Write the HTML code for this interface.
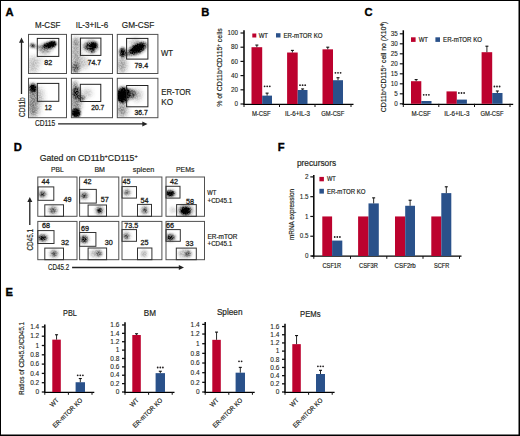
<!DOCTYPE html>
<html><head><meta charset="utf-8"><style>
html,body{margin:0;padding:0;background:#fff;width:520px;height:436px;overflow:hidden;position:relative;font-family:"Liberation Sans",sans-serif;}
</style></head><body>
<svg width="520" height="436" viewBox="0 0 520 436" style="position:absolute;left:0;top:0" font-family="Liberation Sans">
<defs>
<filter id="b1" x="-50%" y="-50%" width="200%" height="200%"><feGaussianBlur stdDeviation="1"/></filter>
<filter id="b2" x="-50%" y="-50%" width="200%" height="200%"><feGaussianBlur stdDeviation="1.8"/></filter>
<filter id="b3" x="-50%" y="-50%" width="200%" height="200%"><feGaussianBlur stdDeviation="2.8"/></filter>
<filter id="b4" x="-50%" y="-50%" width="200%" height="200%"><feGaussianBlur stdDeviation="4"/></filter>
<filter id="grain" x="-20%" y="-20%" width="140%" height="140%" color-interpolation-filters="sRGB">
<feTurbulence type="fractalNoise" baseFrequency="0.7" numOctaves="2" seed="7" result="nz"/>
<feColorMatrix in="nz" type="matrix" values="0 0 0 0 0  0 0 0 0 0  0 0 0 0 0  3 0 0 0 -1" result="na"/>
<feComposite in="SourceGraphic" in2="na" operator="arithmetic" k1="0.55" k2="0.85" k3="0" k4="0"/>
<feGaussianBlur stdDeviation="0.35"/>
</filter>
</defs>
<rect x="0" y="0" width="520" height="436" fill="#fff"/>
<text x="5.6" y="16.3" font-size="11.2" text-anchor="start" font-weight="bold" fill="#000" stroke="#000" stroke-width="0.35" >A</text>
<text x="47.7" y="27.9" font-size="8.5" text-anchor="middle" font-weight="normal" fill="#231f20" textLength="25.3" lengthAdjust="spacingAndGlyphs" stroke="#231f20" stroke-width="0.18" >M-CSF</text>
<text x="91.9" y="27.9" font-size="8.5" text-anchor="middle" font-weight="normal" fill="#231f20" textLength="32.5" lengthAdjust="spacingAndGlyphs" stroke="#231f20" stroke-width="0.18" >IL-3+IL-6</text>
<text x="138.1" y="27.9" font-size="8.5" text-anchor="middle" font-weight="normal" fill="#231f20" textLength="32.5" lengthAdjust="spacingAndGlyphs" stroke="#231f20" stroke-width="0.18" >GM-CSF</text>
<clipPath id="ca00"><rect x="28.5" y="34.4" width="38.0" height="39.1"/></clipPath>
<clipPath id="ca01"><rect x="71.4" y="34.4" width="41.099999999999994" height="39.1"/></clipPath>
<clipPath id="ca02"><rect x="117.3" y="34.4" width="40.60000000000001" height="39.1"/></clipPath>
<clipPath id="ca10"><rect x="28.5" y="78.3" width="38.0" height="39.400000000000006"/></clipPath>
<clipPath id="ca11"><rect x="71.4" y="78.3" width="41.099999999999994" height="39.400000000000006"/></clipPath>
<clipPath id="ca12"><rect x="117.3" y="78.3" width="40.60000000000001" height="39.400000000000006"/></clipPath>
<g clip-path="url(#ca00)">
<g filter="url(#grain)">
<ellipse cx="47" cy="47" rx="9" ry="4.5" transform="rotate(-15 47 47)" fill="#000" fill-opacity="0.3" filter="url(#b2)"/>
<ellipse cx="49.5" cy="45" rx="6.8" ry="2.6" transform="rotate(-17 49.5 45)" fill="#000" fill-opacity="1" filter="url(#b1)"/>
<ellipse cx="52.5" cy="44" rx="3.4" ry="2.3" transform="rotate(-17 52.5 44)" fill="#000" fill-opacity="1" filter="url(#b1)"/>
<ellipse cx="32.5" cy="45.5" rx="2.6" ry="2" transform="rotate(0 32.5 45.5)" fill="#000" fill-opacity="0.75" filter="url(#b1)"/>
<ellipse cx="38" cy="47" rx="5" ry="1.6" transform="rotate(0 38 47)" fill="#000" fill-opacity="0.25" filter="url(#b1)"/>
<ellipse cx="33" cy="65" rx="5.5" ry="9" transform="rotate(0 33 65)" fill="#000" fill-opacity="0.2" filter="url(#b3)"/>
<ellipse cx="45" cy="52" rx="6" ry="3" transform="rotate(0 45 52)" fill="#000" fill-opacity="0.14" filter="url(#b2)"/>
<ellipse cx="40" cy="60" rx="4" ry="4" transform="rotate(0 40 60)" fill="#000" fill-opacity="0.08" filter="url(#b3)"/>
</g>
<ellipse cx="49.5" cy="45" rx="4.76" ry="1.8199999999999998" transform="rotate(-17 49.5 45)" fill="#000" fill-opacity="0.85" filter="url(#b1)"/>
<ellipse cx="52.5" cy="44" rx="2.38" ry="1.6099999999999999" transform="rotate(-17 52.5 44)" fill="#000" fill-opacity="0.85" filter="url(#b1)"/>
</g>
<g clip-path="url(#ca01)">
<g filter="url(#grain)">
<ellipse cx="91" cy="46.5" rx="8" ry="6.5" transform="rotate(0 91 46.5)" fill="#000" fill-opacity="0.3" filter="url(#b2)"/>
<ellipse cx="93.5" cy="45.5" rx="3.6" ry="3.3" transform="rotate(0 93.5 45.5)" fill="#000" fill-opacity="1" filter="url(#b1)"/>
<ellipse cx="89" cy="46.5" rx="4.5" ry="3.5" transform="rotate(0 89 46.5)" fill="#000" fill-opacity="0.55" filter="url(#b1)"/>
<ellipse cx="92.5" cy="50.5" rx="2" ry="2.3" transform="rotate(0 92.5 50.5)" fill="#000" fill-opacity="0.75" filter="url(#b1)"/>
<ellipse cx="76" cy="55" rx="4.5" ry="18" transform="rotate(0 76 55)" fill="#000" fill-opacity="0.3" filter="url(#b3)"/>
<ellipse cx="75.5" cy="68" rx="4" ry="5" transform="rotate(0 75.5 68)" fill="#000" fill-opacity="0.4" filter="url(#b2)"/>
<ellipse cx="84" cy="63" rx="5" ry="6" transform="rotate(0 84 63)" fill="#000" fill-opacity="0.18" filter="url(#b3)"/>
<ellipse cx="76" cy="42" rx="3" ry="4" transform="rotate(0 76 42)" fill="#000" fill-opacity="0.15" filter="url(#b2)"/>
</g>
<ellipse cx="93.5" cy="45.5" rx="2.52" ry="2.3099999999999996" transform="rotate(0 93.5 45.5)" fill="#000" fill-opacity="0.85" filter="url(#b1)"/>
</g>
<g clip-path="url(#ca02)">
<g filter="url(#grain)">
<ellipse cx="137.5" cy="48.5" rx="10.5" ry="5.5" transform="rotate(-28 137.5 48.5)" fill="#000" fill-opacity="0.5" filter="url(#b2)"/>
<ellipse cx="137.5" cy="48.5" rx="8.5" ry="3.8" transform="rotate(-28 137.5 48.5)" fill="#000" fill-opacity="1" filter="url(#b1)"/>
<ellipse cx="122.5" cy="52.5" rx="3.2" ry="5" transform="rotate(0 122.5 52.5)" fill="#000" fill-opacity="0.85" filter="url(#b1)"/>
<ellipse cx="127" cy="54" rx="4" ry="2.5" transform="rotate(0 127 54)" fill="#000" fill-opacity="0.4" filter="url(#b2)"/>
<ellipse cx="122" cy="65" rx="4.5" ry="8" transform="rotate(0 122 65)" fill="#000" fill-opacity="0.32" filter="url(#b3)"/>
<ellipse cx="134" cy="41" rx="6" ry="3" transform="rotate(-20 134 41)" fill="#000" fill-opacity="0.15" filter="url(#b2)"/>
</g>
<ellipse cx="137.5" cy="48.5" rx="5.949999999999999" ry="2.6599999999999997" transform="rotate(-28 137.5 48.5)" fill="#000" fill-opacity="0.85" filter="url(#b1)"/>
</g>
<g clip-path="url(#ca10)">
<g filter="url(#grain)">
<ellipse cx="33" cy="88" rx="2.8" ry="3.6" transform="rotate(0 33 88)" fill="#000" fill-opacity="1" filter="url(#b1)"/>
<ellipse cx="32.5" cy="88" rx="4.5" ry="5" transform="rotate(0 32.5 88)" fill="#000" fill-opacity="0.35" filter="url(#b2)"/>
<ellipse cx="32.5" cy="102" rx="4.5" ry="16" transform="rotate(0 32.5 102)" fill="#000" fill-opacity="0.4" filter="url(#b3)"/>
<ellipse cx="39" cy="96" rx="5" ry="9" transform="rotate(0 39 96)" fill="#000" fill-opacity="0.18" filter="url(#b3)"/>
<ellipse cx="36" cy="110" rx="5" ry="6" transform="rotate(0 36 110)" fill="#000" fill-opacity="0.15" filter="url(#b3)"/>
</g>
<ellipse cx="33" cy="88" rx="1.9599999999999997" ry="2.52" transform="rotate(0 33 88)" fill="#000" fill-opacity="0.85" filter="url(#b1)"/>
</g>
<g clip-path="url(#ca11)">
<g filter="url(#grain)">
<ellipse cx="76" cy="92" rx="4" ry="6" transform="rotate(0 76 92)" fill="#000" fill-opacity="0.7" filter="url(#b2)"/>
<ellipse cx="76" cy="113" rx="4.5" ry="4.5" transform="rotate(0 76 113)" fill="#000" fill-opacity="0.95" filter="url(#b1)"/>
<ellipse cx="76" cy="103" rx="5" ry="10" transform="rotate(0 76 103)" fill="#000" fill-opacity="0.4" filter="url(#b3)"/>
<ellipse cx="81" cy="98" rx="4" ry="2.5" transform="rotate(0 81 98)" fill="#000" fill-opacity="0.55" filter="url(#b2)"/>
<ellipse cx="87" cy="93" rx="5" ry="4" transform="rotate(0 87 93)" fill="#000" fill-opacity="0.2" filter="url(#b3)"/>
<ellipse cx="75" cy="84" rx="3" ry="3" transform="rotate(0 75 84)" fill="#000" fill-opacity="0.3" filter="url(#b2)"/>
</g>
<ellipse cx="76" cy="113" rx="3.15" ry="3.15" transform="rotate(0 76 113)" fill="#000" fill-opacity="0.85" filter="url(#b1)"/>
</g>
<g clip-path="url(#ca12)">
<g filter="url(#grain)">
<ellipse cx="123" cy="95" rx="6" ry="8" transform="rotate(0 123 95)" fill="#000" fill-opacity="0.9" filter="url(#b2)"/>
<ellipse cx="130" cy="94" rx="6" ry="5" transform="rotate(0 130 94)" fill="#000" fill-opacity="0.55" filter="url(#b2)"/>
<ellipse cx="121" cy="96" rx="3.2" ry="6" transform="rotate(0 121 96)" fill="#000" fill-opacity="1" filter="url(#b1)"/>
<ellipse cx="126" cy="92" rx="3" ry="3" transform="rotate(0 126 92)" fill="#000" fill-opacity="0.8" filter="url(#b1)"/>
<ellipse cx="122" cy="110" rx="5" ry="7" transform="rotate(0 122 110)" fill="#000" fill-opacity="0.38" filter="url(#b3)"/>
<ellipse cx="137" cy="95" rx="5" ry="6" transform="rotate(0 137 95)" fill="#000" fill-opacity="0.22" filter="url(#b3)"/>
</g>
<ellipse cx="123" cy="95" rx="4.199999999999999" ry="5.6" transform="rotate(0 123 95)" fill="#000" fill-opacity="0.85" filter="url(#b1)"/>
<ellipse cx="121" cy="96" rx="2.2399999999999998" ry="4.199999999999999" transform="rotate(0 121 96)" fill="#000" fill-opacity="0.85" filter="url(#b1)"/>
</g>
<rect x="28.5" y="34.4" width="38.0" height="39.1" fill="none" stroke="#505050" stroke-width="1"/>
<rect x="71.4" y="34.4" width="41.099999999999994" height="39.1" fill="none" stroke="#505050" stroke-width="1"/>
<rect x="117.3" y="34.4" width="40.60000000000001" height="39.1" fill="none" stroke="#505050" stroke-width="1"/>
<rect x="28.5" y="78.3" width="38.0" height="39.400000000000006" fill="none" stroke="#505050" stroke-width="1"/>
<rect x="71.4" y="78.3" width="41.099999999999994" height="39.400000000000006" fill="none" stroke="#505050" stroke-width="1"/>
<rect x="117.3" y="78.3" width="40.60000000000001" height="39.400000000000006" fill="none" stroke="#505050" stroke-width="1"/>
<rect x="37.3" y="38.4" width="21.5" height="18.0" fill="none" stroke="#222" stroke-width="1"/>
<rect x="80.4" y="38.1" width="20.5" height="17.299999999999997" fill="none" stroke="#222" stroke-width="1"/>
<rect x="126.6" y="38.4" width="21.30000000000001" height="20.700000000000003" fill="none" stroke="#222" stroke-width="1"/>
<rect x="37.3" y="83.4" width="21.5" height="17.89999999999999" fill="none" stroke="#222" stroke-width="1"/>
<rect x="80.3" y="84.3" width="20.5" height="17.200000000000003" fill="none" stroke="#222" stroke-width="1"/>
<rect x="126.6" y="85.5" width="21.30000000000001" height="21.299999999999997" fill="none" stroke="#222" stroke-width="1"/>
<text x="48.2" y="64.7" font-size="7.5" text-anchor="middle" font-weight="normal" fill="#231f20" textLength="7.9" lengthAdjust="spacingAndGlyphs" stroke="#231f20" stroke-width="0.32" >82</text>
<text x="94.3" y="64.9" font-size="7.5" text-anchor="middle" font-weight="normal" fill="#231f20" textLength="13.5" lengthAdjust="spacingAndGlyphs" stroke="#231f20" stroke-width="0.32" >74.7</text>
<text x="141.3" y="68.2" font-size="7.5" text-anchor="middle" font-weight="normal" fill="#231f20" textLength="13.7" lengthAdjust="spacingAndGlyphs" stroke="#231f20" stroke-width="0.32" >79.4</text>
<text x="48.3" y="110.3" font-size="7.5" text-anchor="middle" font-weight="normal" fill="#231f20" textLength="6.9" lengthAdjust="spacingAndGlyphs" stroke="#231f20" stroke-width="0.32" >12</text>
<text x="97.8" y="110.3" font-size="7.5" text-anchor="middle" font-weight="normal" fill="#231f20" textLength="13.1" lengthAdjust="spacingAndGlyphs" stroke="#231f20" stroke-width="0.32" >20.7</text>
<text x="141.1" y="115.2" font-size="7.5" text-anchor="middle" font-weight="normal" fill="#231f20" textLength="13.4" lengthAdjust="spacingAndGlyphs" stroke="#231f20" stroke-width="0.32" >36.7</text>
<text x="161" y="55.6" font-size="8.7" text-anchor="start" font-weight="normal" fill="#231f20" textLength="12.1" lengthAdjust="spacingAndGlyphs" stroke="#231f20" stroke-width="0.18" >WT</text>
<text x="161.3" y="94.8" font-size="8.5" text-anchor="start" font-weight="normal" fill="#231f20" textLength="29.7" lengthAdjust="spacingAndGlyphs" stroke="#231f20" stroke-width="0.18" >ER-TOR</text>
<text x="161.3" y="104.8" font-size="8.5" text-anchor="start" font-weight="normal" fill="#231f20" textLength="11.8" lengthAdjust="spacingAndGlyphs" stroke="#231f20" stroke-width="0.18" >KO</text>
<line x1="21.5" y1="41.5" x2="21.5" y2="94" stroke="#222" stroke-width="1.3"/>
<path d="M19.0,42.7 L21.5,37.5 L24.0,42.7 Z" fill="#222"/>
<text transform="translate(24.6,107.2) rotate(-90)" x="0" y="0" font-size="8.6" text-anchor="middle" fill="#231f20" textLength="19.6" lengthAdjust="spacingAndGlyphs" stroke="#231f20" stroke-width="0.18" >CD11b</text>
<text x="35" y="125.9" font-size="8.2" text-anchor="start" font-weight="normal" fill="#231f20" textLength="20.1" lengthAdjust="spacingAndGlyphs" stroke="#231f20" stroke-width="0.18" >CD115</text>
<line x1="58.1" y1="123.9" x2="143.5" y2="123.9" stroke="#222" stroke-width="1.3"/>
<path d="M142.3,121.4 L147.5,123.9 L142.3,126.4 Z" fill="#222"/>
<text x="201.2" y="16.3" font-size="11.2" text-anchor="start" font-weight="bold" fill="#000" stroke="#000" stroke-width="0.35" >B</text>
<line x1="244" y1="30.3" x2="244" y2="104.6" stroke="#000" stroke-width="1.5"/>
<line x1="240.5" y1="104.0" x2="244" y2="104.0" stroke="#111111" stroke-width="1.2"/>
<text x="238" y="106.2" font-size="6.3" text-anchor="end" font-weight="normal" fill="#231f20" stroke="#231f20" stroke-width="0.1" >0</text>
<line x1="240.5" y1="89.8" x2="244" y2="89.8" stroke="#111111" stroke-width="1.2"/>
<text x="238" y="92.0" font-size="6.3" text-anchor="end" font-weight="normal" fill="#231f20" stroke="#231f20" stroke-width="0.1" >20</text>
<line x1="240.5" y1="75.6" x2="244" y2="75.6" stroke="#111111" stroke-width="1.2"/>
<text x="238" y="77.8" font-size="6.3" text-anchor="end" font-weight="normal" fill="#231f20" stroke="#231f20" stroke-width="0.1" >40</text>
<line x1="240.5" y1="61.400000000000006" x2="244" y2="61.400000000000006" stroke="#111111" stroke-width="1.2"/>
<text x="238" y="63.60000000000001" font-size="6.3" text-anchor="end" font-weight="normal" fill="#231f20" stroke="#231f20" stroke-width="0.1" >60</text>
<line x1="240.5" y1="47.2" x2="244" y2="47.2" stroke="#111111" stroke-width="1.2"/>
<text x="238" y="49.400000000000006" font-size="6.3" text-anchor="end" font-weight="normal" fill="#231f20" stroke="#231f20" stroke-width="0.1" >80</text>
<line x1="240.5" y1="33.0" x2="244" y2="33.0" stroke="#111111" stroke-width="1.2"/>
<text x="238" y="35.2" font-size="6.3" text-anchor="end" font-weight="normal" fill="#231f20" stroke="#231f20" stroke-width="0.1" >100</text>
<line x1="243.3" y1="104.35" x2="353.5" y2="104.35" stroke="#000" stroke-width="1.15"/>
<line x1="244" y1="104" x2="244" y2="107" stroke="#111111" stroke-width="1"/>
<line x1="279.5" y1="104" x2="279.5" y2="107" stroke="#111111" stroke-width="1"/>
<line x1="315" y1="104" x2="315" y2="107" stroke="#111111" stroke-width="1"/>
<line x1="351" y1="104" x2="351" y2="107" stroke="#111111" stroke-width="1"/>
<rect x="251.5" y="47.2" width="10.699999999999989" height="56.8" fill="#bc022e"/>
<line x1="256.85" y1="45.07" x2="256.85" y2="47.2" stroke="#111111" stroke-width="0.9"/>
<line x1="255.35000000000002" y1="45.07" x2="258.35" y2="45.07" stroke="#111111" stroke-width="1.1"/>
<rect x="287.1" y="52.525000000000006" width="10.599999999999966" height="51.474999999999994" fill="#bc022e"/>
<line x1="292.4" y1="50.395" x2="292.4" y2="52.525000000000006" stroke="#111111" stroke-width="0.9"/>
<line x1="290.9" y1="50.395" x2="293.9" y2="50.395" stroke="#111111" stroke-width="1.1"/>
<rect x="322.5" y="49.330000000000005" width="10.5" height="54.669999999999995" fill="#bc022e"/>
<line x1="327.75" y1="47.2" x2="327.75" y2="49.330000000000005" stroke="#111111" stroke-width="0.9"/>
<line x1="326.25" y1="47.2" x2="329.25" y2="47.2" stroke="#111111" stroke-width="1.1"/>
<rect x="262.2" y="95.622" width="9.800000000000011" height="8.378" fill="#2a518a"/>
<line x1="267.1" y1="93.137" x2="267.1" y2="95.622" stroke="#111111" stroke-width="0.9"/>
<line x1="265.6" y1="93.137" x2="268.6" y2="93.137" stroke="#111111" stroke-width="1.1"/>
<rect x="297.7" y="90.013" width="9.800000000000011" height="13.986999999999998" fill="#2a518a"/>
<line x1="302.6" y1="88.94800000000001" x2="302.6" y2="90.013" stroke="#111111" stroke-width="0.9"/>
<line x1="301.1" y1="88.94800000000001" x2="304.1" y2="88.94800000000001" stroke="#111111" stroke-width="1.1"/>
<rect x="333.0" y="80.215" width="10.0" height="23.785" fill="#2a518a"/>
<line x1="338.0" y1="77.73" x2="338.0" y2="80.215" stroke="#111111" stroke-width="0.9"/>
<line x1="336.5" y1="77.73" x2="339.5" y2="77.73" stroke="#111111" stroke-width="1.1"/>
<circle cx="264.60" cy="86.3" r="0.9" fill="#231f20"/>
<circle cx="267.20" cy="86.3" r="0.9" fill="#231f20"/>
<circle cx="269.80" cy="86.3" r="0.9" fill="#231f20"/>
<circle cx="300.00" cy="85.2" r="0.9" fill="#231f20"/>
<circle cx="302.60" cy="85.2" r="0.9" fill="#231f20"/>
<circle cx="305.20" cy="85.2" r="0.9" fill="#231f20"/>
<circle cx="335.40" cy="72.8" r="0.9" fill="#231f20"/>
<circle cx="338.00" cy="72.8" r="0.9" fill="#231f20"/>
<circle cx="340.60" cy="72.8" r="0.9" fill="#231f20"/>
<rect x="252.3" y="33.5" width="4" height="4" fill="#bc022e"/>
<text x="258.7" y="37.7" font-size="6.5" text-anchor="start" font-weight="normal" fill="#231f20" textLength="9.3" lengthAdjust="spacingAndGlyphs" stroke="#231f20" stroke-width="0.18" >WT</text>
<rect x="276" y="33.2" width="4.5" height="4.3" fill="#2a518a"/>
<text x="283.5" y="37.7" font-size="6.5" text-anchor="start" font-weight="normal" fill="#231f20" textLength="39" lengthAdjust="spacingAndGlyphs" stroke="#231f20" stroke-width="0.18" >ER-mTOR KO</text>
<text x="261.3" y="116" font-size="6.8" text-anchor="middle" font-weight="normal" fill="#231f20" textLength="18.8" lengthAdjust="spacingAndGlyphs" stroke="#231f20" stroke-width="0.18" >M-CSF</text>
<text x="297.5" y="116" font-size="6.8" text-anchor="middle" font-weight="normal" fill="#231f20" textLength="25" lengthAdjust="spacingAndGlyphs" stroke="#231f20" stroke-width="0.18" >IL-6+IL-3</text>
<text x="332.8" y="116" font-size="6.8" text-anchor="middle" font-weight="normal" fill="#231f20" textLength="23" lengthAdjust="spacingAndGlyphs" stroke="#231f20" stroke-width="0.18" >GM-CSF</text>
<text transform="translate(222.0,67.6) rotate(-90)" x="0" y="0" font-size="6.9" text-anchor="middle" fill="#231f20" textLength="78.5" lengthAdjust="spacingAndGlyphs" stroke="#231f20" stroke-width="0.18" >% of CD11b<tspan font-size="4.5" dy="-2">+</tspan><tspan dy="2">CD115</tspan><tspan font-size="4.5" dy="-2">+</tspan><tspan dy="2"> cells</tspan></text>
<text x="364.4" y="16.3" font-size="11.2" text-anchor="start" font-weight="bold" fill="#000" stroke="#000" stroke-width="0.35" >C</text>
<line x1="403.3" y1="30.3" x2="403.3" y2="104.39999999999999" stroke="#000" stroke-width="1.5"/>
<line x1="399.8" y1="103.8" x2="403.3" y2="103.8" stroke="#111111" stroke-width="1.2"/>
<text x="397.8" y="106.0" font-size="6.3" text-anchor="end" font-weight="normal" fill="#231f20" stroke="#231f20" stroke-width="0.1" >0</text>
<line x1="399.8" y1="93.8" x2="403.3" y2="93.8" stroke="#111111" stroke-width="1.2"/>
<text x="397.8" y="96.0" font-size="6.3" text-anchor="end" font-weight="normal" fill="#231f20" stroke="#231f20" stroke-width="0.1" >5</text>
<line x1="399.8" y1="83.8" x2="403.3" y2="83.8" stroke="#111111" stroke-width="1.2"/>
<text x="397.8" y="86.0" font-size="6.3" text-anchor="end" font-weight="normal" fill="#231f20" stroke="#231f20" stroke-width="0.1" >10</text>
<line x1="399.8" y1="73.8" x2="403.3" y2="73.8" stroke="#111111" stroke-width="1.2"/>
<text x="397.8" y="76.0" font-size="6.3" text-anchor="end" font-weight="normal" fill="#231f20" stroke="#231f20" stroke-width="0.1" >15</text>
<line x1="399.8" y1="63.8" x2="403.3" y2="63.8" stroke="#111111" stroke-width="1.2"/>
<text x="397.8" y="66.0" font-size="6.3" text-anchor="end" font-weight="normal" fill="#231f20" stroke="#231f20" stroke-width="0.1" >20</text>
<line x1="399.8" y1="53.8" x2="403.3" y2="53.8" stroke="#111111" stroke-width="1.2"/>
<text x="397.8" y="56.0" font-size="6.3" text-anchor="end" font-weight="normal" fill="#231f20" stroke="#231f20" stroke-width="0.1" >25</text>
<line x1="399.8" y1="43.8" x2="403.3" y2="43.8" stroke="#111111" stroke-width="1.2"/>
<text x="397.8" y="46.0" font-size="6.3" text-anchor="end" font-weight="normal" fill="#231f20" stroke="#231f20" stroke-width="0.1" >30</text>
<line x1="399.8" y1="33.8" x2="403.3" y2="33.8" stroke="#111111" stroke-width="1.2"/>
<text x="397.8" y="36.0" font-size="6.3" text-anchor="end" font-weight="normal" fill="#231f20" stroke="#231f20" stroke-width="0.1" >35</text>
<line x1="402.5" y1="104.3" x2="513.2" y2="104.3" stroke="#000" stroke-width="1.15"/>
<line x1="403.3" y1="103.8" x2="403.3" y2="107" stroke="#111111" stroke-width="1"/>
<line x1="438.8" y1="103.8" x2="438.8" y2="107" stroke="#111111" stroke-width="1"/>
<line x1="474.5" y1="103.8" x2="474.5" y2="107" stroke="#111111" stroke-width="1"/>
<line x1="510" y1="103.8" x2="510" y2="107" stroke="#111111" stroke-width="1"/>
<rect x="411" y="81.19999999999999" width="10.300000000000011" height="22.6" fill="#bc022e"/>
<line x1="416.15" y1="79.6" x2="416.15" y2="81.19999999999999" stroke="#111111" stroke-width="0.9"/>
<line x1="414.65" y1="79.6" x2="417.65" y2="79.6" stroke="#111111" stroke-width="1.1"/>
<rect x="446.5" y="91.39999999999999" width="10.300000000000011" height="12.4" fill="#bc022e"/>
<rect x="481.6" y="52.199999999999996" width="10.599999999999966" height="51.6" fill="#bc022e"/>
<line x1="486.9" y1="46.199999999999996" x2="486.9" y2="52.199999999999996" stroke="#111111" stroke-width="0.9"/>
<line x1="485.4" y1="46.199999999999996" x2="488.4" y2="46.199999999999996" stroke="#111111" stroke-width="1.1"/>
<rect x="421.3" y="101.0" width="10.199999999999989" height="2.8" fill="#2a518a"/>
<rect x="456.8" y="99.6" width="10.099999999999966" height="4.2" fill="#2a518a"/>
<rect x="492.2" y="93.0" width="10.300000000000011" height="10.8" fill="#2a518a"/>
<line x1="497.35" y1="91.0" x2="497.35" y2="93.0" stroke="#111111" stroke-width="0.9"/>
<line x1="495.85" y1="91.0" x2="498.85" y2="91.0" stroke="#111111" stroke-width="1.1"/>
<circle cx="423.70" cy="94.8" r="0.9" fill="#231f20"/>
<circle cx="426.30" cy="94.8" r="0.9" fill="#231f20"/>
<circle cx="428.90" cy="94.8" r="0.9" fill="#231f20"/>
<circle cx="458.90" cy="93" r="0.9" fill="#231f20"/>
<circle cx="461.50" cy="93" r="0.9" fill="#231f20"/>
<circle cx="464.10" cy="93" r="0.9" fill="#231f20"/>
<circle cx="494.40" cy="86.5" r="0.9" fill="#231f20"/>
<circle cx="497.00" cy="86.5" r="0.9" fill="#231f20"/>
<circle cx="499.60" cy="86.5" r="0.9" fill="#231f20"/>
<rect x="411" y="37.3" width="4.6" height="4.6" fill="#bc022e"/>
<text x="418.7" y="42" font-size="6.5" text-anchor="start" font-weight="normal" fill="#231f20" textLength="9.3" lengthAdjust="spacingAndGlyphs" stroke="#231f20" stroke-width="0.18" >WT</text>
<rect x="435.4" y="37.3" width="4.6" height="4.6" fill="#2a518a"/>
<text x="443.1" y="42" font-size="6.5" text-anchor="start" font-weight="normal" fill="#231f20" textLength="39" lengthAdjust="spacingAndGlyphs" stroke="#231f20" stroke-width="0.18" >ER-mTOR KO</text>
<text x="421.1" y="116" font-size="6.8" text-anchor="middle" font-weight="normal" fill="#231f20" textLength="19.3" lengthAdjust="spacingAndGlyphs" stroke="#231f20" stroke-width="0.18" >M-CSF</text>
<text x="456.8" y="116" font-size="6.8" text-anchor="middle" font-weight="normal" fill="#231f20" textLength="25.2" lengthAdjust="spacingAndGlyphs" stroke="#231f20" stroke-width="0.18" >IL-6+IL-3</text>
<text x="492" y="116" font-size="6.8" text-anchor="middle" font-weight="normal" fill="#231f20" textLength="23" lengthAdjust="spacingAndGlyphs" stroke="#231f20" stroke-width="0.18" >GM-CSF</text>
<text transform="translate(385.9,67.0) rotate(-90)" x="0" y="0" font-size="6.8" text-anchor="middle" fill="#231f20" textLength="90.5" lengthAdjust="spacingAndGlyphs" stroke="#231f20" stroke-width="0.18" >CD11b<tspan font-size="4.5" dy="-2">+</tspan><tspan dy="2">CD115</tspan><tspan font-size="4.5" dy="-2">+</tspan><tspan dy="2"> cell no (X10</tspan><tspan font-size="4.5" dy="-2">4</tspan><tspan dy="2">)</tspan></text>
<text x="13.7" y="150.6" font-size="11.2" text-anchor="start" font-weight="bold" fill="#000" stroke="#000" stroke-width="0.35" >D</text>
<text x="39.7" y="160.7" font-size="8.6" text-anchor="start" font-weight="normal" fill="#231f20" textLength="98" lengthAdjust="spacingAndGlyphs" stroke="#231f20" stroke-width="0.18" >Gated on CD11b<tspan font-size="5.5" dy="-2.8">+</tspan><tspan dy="2.8">CD115</tspan><tspan font-size="5.5" dy="-2.8">+</tspan></text>
<text x="57.4" y="171.9" font-size="7.6" text-anchor="middle" font-weight="normal" fill="#231f20" textLength="12.7" lengthAdjust="spacingAndGlyphs" stroke="#231f20" stroke-width="0.18" >PBL</text>
<text x="99.7" y="171.9" font-size="7.6" text-anchor="middle" font-weight="normal" fill="#231f20" textLength="10.6" lengthAdjust="spacingAndGlyphs" stroke="#231f20" stroke-width="0.18" >BM</text>
<text x="143.6" y="171.9" font-size="7.6" text-anchor="middle" font-weight="normal" fill="#231f20" textLength="21.5" lengthAdjust="spacingAndGlyphs" stroke="#231f20" stroke-width="0.18" >spleen</text>
<text x="185.2" y="171.9" font-size="7.6" text-anchor="middle" font-weight="normal" fill="#231f20" textLength="18.4" lengthAdjust="spacingAndGlyphs" stroke="#231f20" stroke-width="0.18" >PEMs</text>
<clipPath id="cd00"><rect x="37.8" y="177.0" width="39.2" height="39.30000000000001"/></clipPath>
<clipPath id="cd01"><rect x="79.6" y="177.0" width="39.2" height="39.30000000000001"/></clipPath>
<clipPath id="cd02"><rect x="122.0" y="177.0" width="39.900000000000006" height="39.30000000000001"/></clipPath>
<clipPath id="cd03"><rect x="166.0" y="177.0" width="38.5" height="39.30000000000001"/></clipPath>
<clipPath id="cd10"><rect x="37.8" y="221.4" width="39.2" height="38.29999999999998"/></clipPath>
<clipPath id="cd11"><rect x="79.6" y="221.4" width="39.2" height="38.29999999999998"/></clipPath>
<clipPath id="cd12"><rect x="122.0" y="221.4" width="39.900000000000006" height="38.29999999999998"/></clipPath>
<clipPath id="cd13"><rect x="166.0" y="221.4" width="38.5" height="38.29999999999998"/></clipPath>
<g clip-path="url(#cd00)">
<g filter="url(#grain)">
<ellipse cx="42.5" cy="194.2" rx="2.6" ry="2.3" transform="rotate(0 42.5 194.2)" fill="#000" fill-opacity="0.6" filter="url(#b1)"/>
<ellipse cx="42.5" cy="194.2" rx="4.5" ry="4" transform="rotate(0 42.5 194.2)" fill="#000" fill-opacity="0.25" filter="url(#b2)"/>
<ellipse cx="53" cy="210.2" rx="2.5" ry="2.5" transform="rotate(0 53 210.2)" fill="#000" fill-opacity="0.45" filter="url(#b1)"/>
<ellipse cx="53" cy="210.2" rx="5" ry="4.5" transform="rotate(0 53 210.2)" fill="#000" fill-opacity="0.25" filter="url(#b2)"/>
</g>
</g>
<g clip-path="url(#cd01)">
<g filter="url(#grain)">
<ellipse cx="84.1" cy="195.7" rx="2.8" ry="2.5" transform="rotate(0 84.1 195.7)" fill="#000" fill-opacity="0.55" filter="url(#b1)"/>
<ellipse cx="84.1" cy="195.7" rx="5" ry="4" transform="rotate(0 84.1 195.7)" fill="#000" fill-opacity="0.22" filter="url(#b2)"/>
<ellipse cx="99.5" cy="210.5" rx="1.8" ry="2.2" transform="rotate(0 99.5 210.5)" fill="#000" fill-opacity="0.9" filter="url(#b1)"/>
<ellipse cx="99.5" cy="210.5" rx="4.5" ry="4.5" transform="rotate(0 99.5 210.5)" fill="#000" fill-opacity="0.3" filter="url(#b2)"/>
</g>
<ellipse cx="99.5" cy="210.5" rx="1.26" ry="1.54" transform="rotate(0 99.5 210.5)" fill="#000" fill-opacity="0.85" filter="url(#b1)"/>
</g>
<g clip-path="url(#cd02)">
<g filter="url(#grain)">
<ellipse cx="126.9" cy="192.4" rx="2.5" ry="2.2" transform="rotate(0 126.9 192.4)" fill="#000" fill-opacity="0.4" filter="url(#b1)"/>
<ellipse cx="126.9" cy="192.4" rx="4.5" ry="4" transform="rotate(0 126.9 192.4)" fill="#000" fill-opacity="0.18" filter="url(#b2)"/>
<ellipse cx="144.8" cy="210.2" rx="2.2" ry="2.8" transform="rotate(0 144.8 210.2)" fill="#000" fill-opacity="0.5" filter="url(#b1)"/>
<ellipse cx="144.8" cy="210.2" rx="4.5" ry="5" transform="rotate(0 144.8 210.2)" fill="#000" fill-opacity="0.2" filter="url(#b2)"/>
</g>
</g>
<g clip-path="url(#cd03)">
<g filter="url(#grain)">
<ellipse cx="170.4" cy="193.5" rx="3.8" ry="2.4" transform="rotate(0 170.4 193.5)" fill="#000" fill-opacity="1" filter="url(#b1)"/>
<ellipse cx="170.4" cy="193.5" rx="5.5" ry="4" transform="rotate(0 170.4 193.5)" fill="#000" fill-opacity="0.3" filter="url(#b2)"/>
<ellipse cx="185.5" cy="210.8" rx="5" ry="3.9" transform="rotate(0 185.5 210.8)" fill="#000" fill-opacity="1" filter="url(#b1)"/>
<ellipse cx="185.5" cy="210.5" rx="8" ry="6" transform="rotate(0 185.5 210.5)" fill="#000" fill-opacity="0.32" filter="url(#b2)"/>
<ellipse cx="172.6" cy="210" rx="2.5" ry="3" transform="rotate(0 172.6 210)" fill="#000" fill-opacity="0.15" filter="url(#b2)"/>
</g>
<ellipse cx="170.4" cy="193.5" rx="2.6599999999999997" ry="1.68" transform="rotate(0 170.4 193.5)" fill="#000" fill-opacity="0.85" filter="url(#b1)"/>
<ellipse cx="185.5" cy="210.8" rx="3.5" ry="2.73" transform="rotate(0 185.5 210.8)" fill="#000" fill-opacity="0.85" filter="url(#b1)"/>
</g>
<g clip-path="url(#cd10)">
<g filter="url(#grain)">
<ellipse cx="42.5" cy="238" rx="3.6" ry="2.5" transform="rotate(0 42.5 238)" fill="#000" fill-opacity="0.8" filter="url(#b1)"/>
<ellipse cx="43" cy="238" rx="5.5" ry="4" transform="rotate(0 43 238)" fill="#000" fill-opacity="0.3" filter="url(#b2)"/>
<ellipse cx="54.1" cy="253.7" rx="2.6" ry="2.6" transform="rotate(0 54.1 253.7)" fill="#000" fill-opacity="0.45" filter="url(#b1)"/>
<ellipse cx="54.1" cy="253.7" rx="5" ry="4.5" transform="rotate(0 54.1 253.7)" fill="#000" fill-opacity="0.2" filter="url(#b2)"/>
</g>
</g>
<g clip-path="url(#cd11)">
<g filter="url(#grain)">
<ellipse cx="84.1" cy="239.2" rx="2.8" ry="3" transform="rotate(0 84.1 239.2)" fill="#000" fill-opacity="0.7" filter="url(#b1)"/>
<ellipse cx="84.1" cy="239.2" rx="5" ry="4.5" transform="rotate(0 84.1 239.2)" fill="#000" fill-opacity="0.3" filter="url(#b2)"/>
<ellipse cx="99" cy="253.4" rx="2.8" ry="2.8" transform="rotate(0 99 253.4)" fill="#000" fill-opacity="0.38" filter="url(#b1)"/>
<ellipse cx="96" cy="253.5" rx="6.5" ry="4" transform="rotate(0 96 253.5)" fill="#000" fill-opacity="0.2" filter="url(#b2)"/>
</g>
</g>
<g clip-path="url(#cd12)">
<g filter="url(#grain)">
<ellipse cx="126.3" cy="236.4" rx="2.4" ry="2.4" transform="rotate(0 126.3 236.4)" fill="#000" fill-opacity="0.5" filter="url(#b1)"/>
<ellipse cx="126.3" cy="236" rx="4.5" ry="4.5" transform="rotate(0 126.3 236)" fill="#000" fill-opacity="0.2" filter="url(#b2)"/>
<ellipse cx="144" cy="253.7" rx="3" ry="3.5" transform="rotate(0 144 253.7)" fill="#000" fill-opacity="0.25" filter="url(#b2)"/>
</g>
</g>
<g clip-path="url(#cd13)">
<g filter="url(#grain)">
<ellipse cx="170.4" cy="237.5" rx="3.6" ry="2.5" transform="rotate(0 170.4 237.5)" fill="#000" fill-opacity="0.75" filter="url(#b1)"/>
<ellipse cx="170.4" cy="237.5" rx="5.5" ry="4" transform="rotate(0 170.4 237.5)" fill="#000" fill-opacity="0.3" filter="url(#b2)"/>
<ellipse cx="187.8" cy="253.7" rx="2.8" ry="2.8" transform="rotate(0 187.8 253.7)" fill="#000" fill-opacity="0.45" filter="url(#b1)"/>
<ellipse cx="185" cy="253.7" rx="7" ry="4.5" transform="rotate(0 185 253.7)" fill="#000" fill-opacity="0.2" filter="url(#b2)"/>
</g>
</g>
<rect x="37.8" y="177.0" width="39.2" height="39.30000000000001" fill="none" stroke="#505050" stroke-width="1"/>
<rect x="79.6" y="177.0" width="39.2" height="39.30000000000001" fill="none" stroke="#505050" stroke-width="1"/>
<rect x="122.0" y="177.0" width="39.900000000000006" height="39.30000000000001" fill="none" stroke="#505050" stroke-width="1"/>
<rect x="166.0" y="177.0" width="38.5" height="39.30000000000001" fill="none" stroke="#505050" stroke-width="1"/>
<rect x="37.8" y="221.4" width="39.2" height="38.29999999999998" fill="none" stroke="#505050" stroke-width="1"/>
<rect x="79.6" y="221.4" width="39.2" height="38.29999999999998" fill="none" stroke="#505050" stroke-width="1"/>
<rect x="122.0" y="221.4" width="39.900000000000006" height="38.29999999999998" fill="none" stroke="#505050" stroke-width="1"/>
<rect x="166.0" y="221.4" width="38.5" height="38.29999999999998" fill="none" stroke="#505050" stroke-width="1"/>
<rect x="38.1" y="186.9" width="15.699999999999996" height="13.400000000000006" fill="none" stroke="#333" stroke-width="1"/>
<rect x="44.8" y="204.8" width="18.700000000000003" height="11.5" fill="none" stroke="#333" stroke-width="1"/>
<rect x="79.6" y="189.4" width="16.700000000000003" height="13.699999999999989" fill="none" stroke="#333" stroke-width="1"/>
<rect x="88.1" y="205.0" width="18.400000000000006" height="11.300000000000011" fill="none" stroke="#333" stroke-width="1"/>
<rect x="122.0" y="186.6" width="14.5" height="11.5" fill="none" stroke="#333" stroke-width="1"/>
<rect x="137.5" y="204.4" width="14.0" height="11.900000000000006" fill="none" stroke="#333" stroke-width="1"/>
<rect x="166.0" y="186.3" width="14.0" height="11.799999999999983" fill="none" stroke="#333" stroke-width="1"/>
<rect x="176.6" y="204.6" width="19.700000000000017" height="11.700000000000017" fill="none" stroke="#333" stroke-width="1"/>
<rect x="37.8" y="230.6" width="16.200000000000003" height="12.900000000000006" fill="none" stroke="#333" stroke-width="1"/>
<rect x="44.8" y="248.1" width="18.700000000000003" height="11.599999999999994" fill="none" stroke="#333" stroke-width="1"/>
<rect x="79.6" y="232.5" width="16.30000000000001" height="13.800000000000011" fill="none" stroke="#333" stroke-width="1"/>
<rect x="88.1" y="248.0" width="18.5" height="11.699999999999989" fill="none" stroke="#333" stroke-width="1"/>
<rect x="122.0" y="229.6" width="14.5" height="11.700000000000017" fill="none" stroke="#333" stroke-width="1"/>
<rect x="137.5" y="248.0" width="14.400000000000006" height="11.699999999999989" fill="none" stroke="#333" stroke-width="1"/>
<rect x="166.0" y="229.6" width="14.300000000000011" height="11.700000000000017" fill="none" stroke="#333" stroke-width="1"/>
<rect x="176.3" y="248.1" width="20.0" height="11.599999999999994" fill="none" stroke="#333" stroke-width="1"/>
<text x="45.6" y="183.8" font-size="7.2" text-anchor="middle" font-weight="normal" fill="#231f20" stroke="#231f20" stroke-width="0.3" >44</text>
<text x="67.5" y="201.7" font-size="7.2" text-anchor="middle" font-weight="normal" fill="#231f20" stroke="#231f20" stroke-width="0.3" >49</text>
<text x="87.5" y="183.8" font-size="7.2" text-anchor="middle" font-weight="normal" fill="#231f20" stroke="#231f20" stroke-width="0.3" >42</text>
<text x="104.8" y="201.7" font-size="7.2" text-anchor="middle" font-weight="normal" fill="#231f20" stroke="#231f20" stroke-width="0.3" >57</text>
<text x="126.6" y="183.8" font-size="7.2" text-anchor="middle" font-weight="normal" fill="#231f20" stroke="#231f20" stroke-width="0.3" >45</text>
<text x="144.4" y="202.9" font-size="7.2" text-anchor="middle" font-weight="normal" fill="#231f20" stroke="#231f20" stroke-width="0.3" >54</text>
<text x="174.1" y="183.7" font-size="7.2" text-anchor="middle" font-weight="normal" fill="#231f20" stroke="#231f20" stroke-width="0.3" >42</text>
<text x="190" y="204.2" font-size="7.2" text-anchor="middle" font-weight="normal" fill="#231f20" stroke="#231f20" stroke-width="0.3" >58</text>
<text x="46" y="227.9" font-size="7.2" text-anchor="middle" font-weight="normal" fill="#231f20" stroke="#231f20" stroke-width="0.3" >68</text>
<text x="65" y="245.2" font-size="7.2" text-anchor="middle" font-weight="normal" fill="#231f20" stroke="#231f20" stroke-width="0.3" >32</text>
<text x="85" y="230.7" font-size="7.2" text-anchor="middle" font-weight="normal" fill="#231f20" stroke="#231f20" stroke-width="0.3" >69</text>
<text x="108.8" y="244.8" font-size="7.2" text-anchor="middle" font-weight="normal" fill="#231f20" stroke="#231f20" stroke-width="0.3" >30</text>
<text x="131.3" y="228.2" font-size="7.2" text-anchor="middle" font-weight="normal" fill="#231f20" stroke="#231f20" stroke-width="0.3" >73.5</text>
<text x="144.4" y="244.8" font-size="7.2" text-anchor="middle" font-weight="normal" fill="#231f20" stroke="#231f20" stroke-width="0.3" >25</text>
<text x="170" y="228.2" font-size="7.2" text-anchor="middle" font-weight="normal" fill="#231f20" stroke="#231f20" stroke-width="0.3" >66</text>
<text x="189.6" y="246" font-size="7.2" text-anchor="middle" font-weight="normal" fill="#231f20" stroke="#231f20" stroke-width="0.3" >33</text>
<text x="207.3" y="195.1" font-size="6.3" text-anchor="start" font-weight="normal" fill="#231f20" textLength="9" lengthAdjust="spacingAndGlyphs" stroke="#231f20" stroke-width="0.18" >WT</text>
<text x="207.5" y="202.8" font-size="6.3" text-anchor="start" font-weight="normal" fill="#231f20" textLength="24.7" lengthAdjust="spacingAndGlyphs" stroke="#231f20" stroke-width="0.18" >+CD45.1</text>
<text x="207.5" y="238.8" font-size="6.3" text-anchor="start" font-weight="normal" fill="#231f20" textLength="30" lengthAdjust="spacingAndGlyphs" stroke="#231f20" stroke-width="0.18" >ER-mTOR</text>
<text x="207.5" y="246.3" font-size="6.3" text-anchor="start" font-weight="normal" fill="#231f20" textLength="24.7" lengthAdjust="spacingAndGlyphs" stroke="#231f20" stroke-width="0.18" >+CD45.1</text>
<line x1="29.8" y1="200.9" x2="29.8" y2="225" stroke="#222" stroke-width="1.3"/>
<path d="M27.3,202.1 L29.8,196.9 L32.3,202.1 Z" fill="#222"/>
<text transform="translate(32.6,239.8) rotate(-90)" x="0" y="0" font-size="8.6" text-anchor="middle" fill="#231f20" textLength="21.5" lengthAdjust="spacingAndGlyphs" stroke="#231f20" stroke-width="0.18" >CD45.1</text>
<text x="48.1" y="270.3" font-size="8.6" text-anchor="start" font-weight="normal" fill="#231f20" textLength="21" lengthAdjust="spacingAndGlyphs" stroke="#231f20" stroke-width="0.18" >CD45.2</text>
<line x1="72.1" y1="267.5" x2="180" y2="267.5" stroke="#222" stroke-width="1.3"/>
<path d="M178.8,265.0 L184,267.5 L178.8,270.0 Z" fill="#222"/>
<text x="277.7" y="150.6" font-size="11.2" text-anchor="start" font-weight="bold" fill="#000" stroke="#000" stroke-width="0.35" >F</text>
<text x="296.9" y="166.3" font-size="8.3" text-anchor="start" font-weight="normal" fill="#231f20" textLength="39.3" lengthAdjust="spacingAndGlyphs" stroke="#231f20" stroke-width="0.18" >precursors</text>
<line x1="313.8" y1="175" x2="313.8" y2="256.6" stroke="#000" stroke-width="1.5"/>
<line x1="310.3" y1="256.0" x2="313.8" y2="256.0" stroke="#111111" stroke-width="1.2"/>
<text x="308.5" y="258.2" font-size="6.3" text-anchor="end" font-weight="normal" fill="#231f20" stroke="#231f20" stroke-width="0.1" >0</text>
<line x1="310.3" y1="236.225" x2="313.8" y2="236.225" stroke="#111111" stroke-width="1.2"/>
<text x="308.5" y="238.42499999999998" font-size="6.3" text-anchor="end" font-weight="normal" fill="#231f20" stroke="#231f20" stroke-width="0.1" >0.5</text>
<line x1="310.3" y1="216.45" x2="313.8" y2="216.45" stroke="#111111" stroke-width="1.2"/>
<text x="308.5" y="218.64999999999998" font-size="6.3" text-anchor="end" font-weight="normal" fill="#231f20" stroke="#231f20" stroke-width="0.1" >1</text>
<line x1="310.3" y1="196.675" x2="313.8" y2="196.675" stroke="#111111" stroke-width="1.2"/>
<text x="308.5" y="198.875" font-size="6.3" text-anchor="end" font-weight="normal" fill="#231f20" stroke="#231f20" stroke-width="0.1" >1.5</text>
<line x1="310.3" y1="176.9" x2="313.8" y2="176.9" stroke="#111111" stroke-width="1.2"/>
<text x="308.5" y="179.1" font-size="6.3" text-anchor="end" font-weight="normal" fill="#231f20" stroke="#231f20" stroke-width="0.1" >2</text>
<line x1="311.5" y1="256.1" x2="461.5" y2="256.1" stroke="#000" stroke-width="1.2"/>
<line x1="313.8" y1="256" x2="313.8" y2="258.8" stroke="#111111" stroke-width="1"/>
<line x1="350.5" y1="256" x2="350.5" y2="258.8" stroke="#111111" stroke-width="1"/>
<line x1="386.8" y1="256" x2="386.8" y2="258.8" stroke="#111111" stroke-width="1"/>
<line x1="423" y1="256" x2="423" y2="258.8" stroke="#111111" stroke-width="1"/>
<line x1="459.5" y1="256" x2="459.5" y2="258.8" stroke="#111111" stroke-width="1"/>
<rect x="322.3" y="216.45" width="9.800000000000011" height="39.55" fill="#bc022e"/>
<rect x="358.1" y="216.45" width="10.399999999999977" height="39.55" fill="#bc022e"/>
<rect x="395.0" y="216.45" width="10.199999999999989" height="39.55" fill="#bc022e"/>
<rect x="431.3" y="216.45" width="10.0" height="39.55" fill="#bc022e"/>
<rect x="332.1" y="240.5755" width="10.199999999999989" height="15.4245" fill="#2a518a"/>
<rect x="368.5" y="203.3985" width="10.300000000000011" height="52.6015" fill="#2a518a"/>
<line x1="373.65" y1="197.8615" x2="373.65" y2="203.3985" stroke="#111111" stroke-width="0.9"/>
<line x1="372.15" y1="197.8615" x2="375.15" y2="197.8615" stroke="#111111" stroke-width="1.1"/>
<rect x="405.2" y="205.7715" width="9.800000000000011" height="50.2285" fill="#2a518a"/>
<line x1="410.1" y1="200.2345" x2="410.1" y2="205.7715" stroke="#111111" stroke-width="0.9"/>
<line x1="408.6" y1="200.2345" x2="411.6" y2="200.2345" stroke="#111111" stroke-width="1.1"/>
<rect x="441.3" y="193.1155" width="10.0" height="62.884499999999996" fill="#2a518a"/>
<line x1="446.3" y1="186.78750000000002" x2="446.3" y2="193.1155" stroke="#111111" stroke-width="0.9"/>
<line x1="444.8" y1="186.78750000000002" x2="447.8" y2="186.78750000000002" stroke="#111111" stroke-width="1.1"/>
<circle cx="334.70" cy="237" r="0.9" fill="#231f20"/>
<circle cx="337.30" cy="237" r="0.9" fill="#231f20"/>
<circle cx="339.90" cy="237" r="0.9" fill="#231f20"/>
<rect x="319.4" y="176.9" width="4.5" height="4.4" fill="#bc022e"/>
<text x="326.9" y="181" font-size="6.5" text-anchor="start" font-weight="normal" fill="#231f20" textLength="8.8" lengthAdjust="spacingAndGlyphs" stroke="#231f20" stroke-width="0.18" >WT</text>
<rect x="319.4" y="188.8" width="4.5" height="4.8" fill="#2a518a"/>
<text x="326.9" y="193.5" font-size="6.5" text-anchor="start" font-weight="normal" fill="#231f20" textLength="38.7" lengthAdjust="spacingAndGlyphs" stroke="#231f20" stroke-width="0.18" >ER-mTOR KO</text>
<text x="331.8" y="267.7" font-size="6.3" text-anchor="middle" font-weight="normal" fill="#231f20" textLength="18.6" lengthAdjust="spacingAndGlyphs" stroke="#231f20" stroke-width="0.18" >CSF1R</text>
<text x="368.5" y="267.7" font-size="6.3" text-anchor="middle" font-weight="normal" fill="#231f20" textLength="18.8" lengthAdjust="spacingAndGlyphs" stroke="#231f20" stroke-width="0.18" >CSF3R</text>
<text x="405.2" y="267.7" font-size="6.3" text-anchor="middle" font-weight="normal" fill="#231f20" textLength="21.2" lengthAdjust="spacingAndGlyphs" stroke="#231f20" stroke-width="0.18" >CSF2rb</text>
<text x="441.6" y="267.7" font-size="6.3" text-anchor="middle" font-weight="normal" fill="#231f20" textLength="15.3" lengthAdjust="spacingAndGlyphs" stroke="#231f20" stroke-width="0.18" >SCFR</text>
<text transform="translate(293.7,214.5) rotate(-90)" x="0" y="0" font-size="7.0" text-anchor="middle" fill="#231f20" textLength="51" lengthAdjust="spacingAndGlyphs" stroke="#231f20" stroke-width="0.18" >mRNA expression</text>
<text x="5.4" y="296.1" font-size="11.2" text-anchor="start" font-weight="bold" fill="#000" stroke="#000" stroke-width="0.35" >E</text>
<text transform="translate(24.3,358.4) rotate(-90)" x="0" y="0" font-size="7.6" text-anchor="middle" fill="#231f20" textLength="73.2" lengthAdjust="spacingAndGlyphs" stroke="#231f20" stroke-width="0.18" >Ratios of CD45.2/CD45.1</text>
<line x1="44.8" y1="324.4" x2="44.8" y2="392.6" stroke="#000" stroke-width="1.5"/>
<line x1="41.8" y1="392.0" x2="44.8" y2="392.0" stroke="#111111" stroke-width="1.3"/>
<text x="39.199999999999996" y="394.25" font-size="6.5" text-anchor="end" font-weight="normal" fill="#231f20" stroke="#231f20" stroke-width="0.1" >0</text>
<line x1="41.8" y1="382.7" x2="44.8" y2="382.7" stroke="#111111" stroke-width="1.3"/>
<text x="39.199999999999996" y="384.95" font-size="6.5" text-anchor="end" font-weight="normal" fill="#231f20" stroke="#231f20" stroke-width="0.1" >0.2</text>
<line x1="41.8" y1="373.4" x2="44.8" y2="373.4" stroke="#111111" stroke-width="1.3"/>
<text x="39.199999999999996" y="375.65" font-size="6.5" text-anchor="end" font-weight="normal" fill="#231f20" stroke="#231f20" stroke-width="0.1" >0.4</text>
<line x1="41.8" y1="364.1" x2="44.8" y2="364.1" stroke="#111111" stroke-width="1.3"/>
<text x="39.199999999999996" y="366.35" font-size="6.5" text-anchor="end" font-weight="normal" fill="#231f20" stroke="#231f20" stroke-width="0.1" >0.6</text>
<line x1="41.8" y1="354.8" x2="44.8" y2="354.8" stroke="#111111" stroke-width="1.3"/>
<text x="39.199999999999996" y="357.05" font-size="6.5" text-anchor="end" font-weight="normal" fill="#231f20" stroke="#231f20" stroke-width="0.1" >0.8</text>
<line x1="41.8" y1="345.5" x2="44.8" y2="345.5" stroke="#111111" stroke-width="1.3"/>
<text x="39.199999999999996" y="347.75" font-size="6.5" text-anchor="end" font-weight="normal" fill="#231f20" stroke="#231f20" stroke-width="0.1" >1</text>
<line x1="41.8" y1="336.2" x2="44.8" y2="336.2" stroke="#111111" stroke-width="1.3"/>
<text x="39.199999999999996" y="338.45" font-size="6.5" text-anchor="end" font-weight="normal" fill="#231f20" stroke="#231f20" stroke-width="0.1" >1.2</text>
<line x1="41.8" y1="326.9" x2="44.8" y2="326.9" stroke="#111111" stroke-width="1.3"/>
<text x="39.199999999999996" y="329.15" font-size="6.5" text-anchor="end" font-weight="normal" fill="#231f20" stroke="#231f20" stroke-width="0.1" >1.4</text>
<line x1="44.099999999999994" y1="392.35" x2="94.3" y2="392.35" stroke="#000" stroke-width="1.2"/>
<line x1="44.8" y1="392" x2="44.8" y2="394.8" stroke="#111111" stroke-width="1"/>
<line x1="68.4" y1="392" x2="68.4" y2="394.8" stroke="#111111" stroke-width="1"/>
<line x1="92.0" y1="392" x2="92.0" y2="394.8" stroke="#111111" stroke-width="1"/>
<rect x="52.3" y="339.641" width="8.5" height="52.358999999999995" fill="#bc022e"/>
<line x1="56.55" y1="334.7585" x2="56.55" y2="339.641" stroke="#111111" stroke-width="0.9"/>
<line x1="55.05" y1="334.7585" x2="58.05" y2="334.7585" stroke="#111111" stroke-width="1.1"/>
<rect x="75.6" y="382.235" width="9.400000000000006" height="9.764999999999999" fill="#2a518a"/>
<line x1="80.3" y1="378.515" x2="80.3" y2="382.235" stroke="#111111" stroke-width="0.9"/>
<line x1="78.8" y1="378.515" x2="81.8" y2="378.515" stroke="#111111" stroke-width="1.1"/>
<circle cx="77.70" cy="375.3" r="0.9" fill="#231f20"/>
<circle cx="80.30" cy="375.3" r="0.9" fill="#231f20"/>
<circle cx="82.90" cy="375.3" r="0.9" fill="#231f20"/>
<text x="63.1" y="315.6" font-size="8.4" text-anchor="start" font-weight="normal" fill="#231f20" textLength="13.8" lengthAdjust="spacingAndGlyphs" stroke="#231f20" stroke-width="0.18" >PBL</text>
<text transform="translate(59.15,400.7) rotate(-45)" x="0" y="0" font-size="6.6" text-anchor="end" fill="#231f20" textLength="9.5" lengthAdjust="spacingAndGlyphs" stroke="#231f20" stroke-width="0.18" >WT</text>
<text transform="translate(82.89999999999999,400.7) rotate(-45)" x="0" y="0" font-size="6.6" text-anchor="end" fill="#231f20" textLength="39" lengthAdjust="spacingAndGlyphs" stroke="#231f20" stroke-width="0.18" >ER-mTOR KO</text>
<line x1="125.0" y1="322.3" x2="125.0" y2="392.6" stroke="#000" stroke-width="1.5"/>
<line x1="122.0" y1="392.0" x2="125.0" y2="392.0" stroke="#111111" stroke-width="1.3"/>
<text x="119.4" y="394.25" font-size="6.5" text-anchor="end" font-weight="normal" fill="#231f20" stroke="#231f20" stroke-width="0.1" >0</text>
<line x1="122.0" y1="383.62" x2="125.0" y2="383.62" stroke="#111111" stroke-width="1.3"/>
<text x="119.4" y="385.87" font-size="6.5" text-anchor="end" font-weight="normal" fill="#231f20" stroke="#231f20" stroke-width="0.1" >0.2</text>
<line x1="122.0" y1="375.24" x2="125.0" y2="375.24" stroke="#111111" stroke-width="1.3"/>
<text x="119.4" y="377.49" font-size="6.5" text-anchor="end" font-weight="normal" fill="#231f20" stroke="#231f20" stroke-width="0.1" >0.4</text>
<line x1="122.0" y1="366.86" x2="125.0" y2="366.86" stroke="#111111" stroke-width="1.3"/>
<text x="119.4" y="369.11" font-size="6.5" text-anchor="end" font-weight="normal" fill="#231f20" stroke="#231f20" stroke-width="0.1" >0.6</text>
<line x1="122.0" y1="358.48" x2="125.0" y2="358.48" stroke="#111111" stroke-width="1.3"/>
<text x="119.4" y="360.73" font-size="6.5" text-anchor="end" font-weight="normal" fill="#231f20" stroke="#231f20" stroke-width="0.1" >0.8</text>
<line x1="122.0" y1="350.1" x2="125.0" y2="350.1" stroke="#111111" stroke-width="1.3"/>
<text x="119.4" y="352.35" font-size="6.5" text-anchor="end" font-weight="normal" fill="#231f20" stroke="#231f20" stroke-width="0.1" >1</text>
<line x1="122.0" y1="341.72" x2="125.0" y2="341.72" stroke="#111111" stroke-width="1.3"/>
<text x="119.4" y="343.97" font-size="6.5" text-anchor="end" font-weight="normal" fill="#231f20" stroke="#231f20" stroke-width="0.1" >1.2</text>
<line x1="122.0" y1="333.34000000000003" x2="125.0" y2="333.34000000000003" stroke="#111111" stroke-width="1.3"/>
<text x="119.4" y="335.59000000000003" font-size="6.5" text-anchor="end" font-weight="normal" fill="#231f20" stroke="#231f20" stroke-width="0.1" >1.4</text>
<line x1="122.0" y1="324.96000000000004" x2="125.0" y2="324.96000000000004" stroke="#111111" stroke-width="1.3"/>
<text x="119.4" y="327.21000000000004" font-size="6.5" text-anchor="end" font-weight="normal" fill="#231f20" stroke="#231f20" stroke-width="0.1" >1.6</text>
<line x1="124.3" y1="392.35" x2="174.5" y2="392.35" stroke="#000" stroke-width="1.2"/>
<line x1="125.0" y1="392" x2="125.0" y2="394.8" stroke="#111111" stroke-width="1"/>
<line x1="148.6" y1="392" x2="148.6" y2="394.8" stroke="#111111" stroke-width="1"/>
<line x1="172.2" y1="392" x2="172.2" y2="394.8" stroke="#111111" stroke-width="1"/>
<rect x="132.3" y="335.016" width="8.5" height="56.984" fill="#bc022e"/>
<line x1="136.55" y1="333.759" x2="136.55" y2="335.016" stroke="#111111" stroke-width="0.9"/>
<line x1="135.05" y1="333.759" x2="138.05" y2="333.759" stroke="#111111" stroke-width="1.1"/>
<rect x="155.6" y="373.145" width="9.400000000000006" height="18.855" fill="#2a518a"/>
<line x1="160.3" y1="371.2595" x2="160.3" y2="373.145" stroke="#111111" stroke-width="0.9"/>
<line x1="158.8" y1="371.2595" x2="161.8" y2="371.2595" stroke="#111111" stroke-width="1.1"/>
<circle cx="157.70" cy="367.5" r="0.9" fill="#231f20"/>
<circle cx="160.30" cy="367.5" r="0.9" fill="#231f20"/>
<circle cx="162.90" cy="367.5" r="0.9" fill="#231f20"/>
<text x="143.8" y="315.6" font-size="8.4" text-anchor="start" font-weight="normal" fill="#231f20" textLength="12.2" lengthAdjust="spacingAndGlyphs" stroke="#231f20" stroke-width="0.18" >BM</text>
<text transform="translate(139.15,400.7) rotate(-45)" x="0" y="0" font-size="6.6" text-anchor="end" fill="#231f20" textLength="9.5" lengthAdjust="spacingAndGlyphs" stroke="#231f20" stroke-width="0.18" >WT</text>
<text transform="translate(162.9,400.7) rotate(-45)" x="0" y="0" font-size="6.6" text-anchor="end" fill="#231f20" textLength="39" lengthAdjust="spacingAndGlyphs" stroke="#231f20" stroke-width="0.18" >ER-mTOR KO</text>
<line x1="205.2" y1="321.9" x2="205.2" y2="392.6" stroke="#000" stroke-width="1.5"/>
<line x1="202.2" y1="392.0" x2="205.2" y2="392.0" stroke="#111111" stroke-width="1.3"/>
<text x="199.6" y="394.25" font-size="6.5" text-anchor="end" font-weight="normal" fill="#231f20" stroke="#231f20" stroke-width="0.1" >0</text>
<line x1="202.2" y1="382.34" x2="205.2" y2="382.34" stroke="#111111" stroke-width="1.3"/>
<text x="199.6" y="384.59" font-size="6.5" text-anchor="end" font-weight="normal" fill="#231f20" stroke="#231f20" stroke-width="0.1" >0.2</text>
<line x1="202.2" y1="372.68" x2="205.2" y2="372.68" stroke="#111111" stroke-width="1.3"/>
<text x="199.6" y="374.93" font-size="6.5" text-anchor="end" font-weight="normal" fill="#231f20" stroke="#231f20" stroke-width="0.1" >0.4</text>
<line x1="202.2" y1="363.02" x2="205.2" y2="363.02" stroke="#111111" stroke-width="1.3"/>
<text x="199.6" y="365.27" font-size="6.5" text-anchor="end" font-weight="normal" fill="#231f20" stroke="#231f20" stroke-width="0.1" >0.6</text>
<line x1="202.2" y1="353.36" x2="205.2" y2="353.36" stroke="#111111" stroke-width="1.3"/>
<text x="199.6" y="355.61" font-size="6.5" text-anchor="end" font-weight="normal" fill="#231f20" stroke="#231f20" stroke-width="0.1" >0.8</text>
<line x1="202.2" y1="343.7" x2="205.2" y2="343.7" stroke="#111111" stroke-width="1.3"/>
<text x="199.6" y="345.95" font-size="6.5" text-anchor="end" font-weight="normal" fill="#231f20" stroke="#231f20" stroke-width="0.1" >1</text>
<line x1="202.2" y1="334.04" x2="205.2" y2="334.04" stroke="#111111" stroke-width="1.3"/>
<text x="199.6" y="336.29" font-size="6.5" text-anchor="end" font-weight="normal" fill="#231f20" stroke="#231f20" stroke-width="0.1" >1.2</text>
<line x1="202.2" y1="324.38" x2="205.2" y2="324.38" stroke="#111111" stroke-width="1.3"/>
<text x="199.6" y="326.63" font-size="6.5" text-anchor="end" font-weight="normal" fill="#231f20" stroke="#231f20" stroke-width="0.1" >1.4</text>
<line x1="204.5" y1="392.35" x2="254.7" y2="392.35" stroke="#000" stroke-width="1.2"/>
<line x1="205.2" y1="392" x2="205.2" y2="394.8" stroke="#111111" stroke-width="1"/>
<line x1="228.79999999999998" y1="392" x2="228.79999999999998" y2="394.8" stroke="#111111" stroke-width="1"/>
<line x1="252.39999999999998" y1="392" x2="252.39999999999998" y2="394.8" stroke="#111111" stroke-width="1"/>
<rect x="212.3" y="339.836" width="8.5" height="52.164" fill="#bc022e"/>
<line x1="216.55" y1="332.108" x2="216.55" y2="339.836" stroke="#111111" stroke-width="0.9"/>
<line x1="215.05" y1="332.108" x2="218.05" y2="332.108" stroke="#111111" stroke-width="1.1"/>
<rect x="235.6" y="372.68" width="9.400000000000006" height="19.32" fill="#2a518a"/>
<line x1="240.3" y1="367.367" x2="240.3" y2="372.68" stroke="#111111" stroke-width="0.9"/>
<line x1="238.8" y1="367.367" x2="241.8" y2="367.367" stroke="#111111" stroke-width="1.1"/>
<circle cx="239.00" cy="361.3" r="0.9" fill="#231f20"/>
<circle cx="241.60" cy="361.3" r="0.9" fill="#231f20"/>
<text x="216.9" y="314.8" font-size="8.4" text-anchor="start" font-weight="normal" fill="#231f20" textLength="25.6" lengthAdjust="spacingAndGlyphs" stroke="#231f20" stroke-width="0.18" >Spleen</text>
<text transform="translate(219.15,400.7) rotate(-45)" x="0" y="0" font-size="6.6" text-anchor="end" fill="#231f20" textLength="9.5" lengthAdjust="spacingAndGlyphs" stroke="#231f20" stroke-width="0.18" >WT</text>
<text transform="translate(242.9,400.7) rotate(-45)" x="0" y="0" font-size="6.6" text-anchor="end" fill="#231f20" textLength="39" lengthAdjust="spacingAndGlyphs" stroke="#231f20" stroke-width="0.18" >ER-mTOR KO</text>
<line x1="285.0" y1="323.8" x2="285.0" y2="392.6" stroke="#000" stroke-width="1.5"/>
<line x1="282.0" y1="392.0" x2="285.0" y2="392.0" stroke="#111111" stroke-width="1.3"/>
<text x="279.4" y="394.25" font-size="6.5" text-anchor="end" font-weight="normal" fill="#231f20" stroke="#231f20" stroke-width="0.1" >0</text>
<line x1="282.0" y1="383.82" x2="285.0" y2="383.82" stroke="#111111" stroke-width="1.3"/>
<text x="279.4" y="386.07" font-size="6.5" text-anchor="end" font-weight="normal" fill="#231f20" stroke="#231f20" stroke-width="0.1" >0.2</text>
<line x1="282.0" y1="375.64" x2="285.0" y2="375.64" stroke="#111111" stroke-width="1.3"/>
<text x="279.4" y="377.89" font-size="6.5" text-anchor="end" font-weight="normal" fill="#231f20" stroke="#231f20" stroke-width="0.1" >0.4</text>
<line x1="282.0" y1="367.46" x2="285.0" y2="367.46" stroke="#111111" stroke-width="1.3"/>
<text x="279.4" y="369.71" font-size="6.5" text-anchor="end" font-weight="normal" fill="#231f20" stroke="#231f20" stroke-width="0.1" >0.6</text>
<line x1="282.0" y1="359.28" x2="285.0" y2="359.28" stroke="#111111" stroke-width="1.3"/>
<text x="279.4" y="361.53" font-size="6.5" text-anchor="end" font-weight="normal" fill="#231f20" stroke="#231f20" stroke-width="0.1" >0.8</text>
<line x1="282.0" y1="351.1" x2="285.0" y2="351.1" stroke="#111111" stroke-width="1.3"/>
<text x="279.4" y="353.35" font-size="6.5" text-anchor="end" font-weight="normal" fill="#231f20" stroke="#231f20" stroke-width="0.1" >1</text>
<line x1="282.0" y1="342.92" x2="285.0" y2="342.92" stroke="#111111" stroke-width="1.3"/>
<text x="279.4" y="345.17" font-size="6.5" text-anchor="end" font-weight="normal" fill="#231f20" stroke="#231f20" stroke-width="0.1" >1.2</text>
<line x1="282.0" y1="334.74" x2="285.0" y2="334.74" stroke="#111111" stroke-width="1.3"/>
<text x="279.4" y="336.99" font-size="6.5" text-anchor="end" font-weight="normal" fill="#231f20" stroke="#231f20" stroke-width="0.1" >1.4</text>
<line x1="282.0" y1="326.56" x2="285.0" y2="326.56" stroke="#111111" stroke-width="1.3"/>
<text x="279.4" y="328.81" font-size="6.5" text-anchor="end" font-weight="normal" fill="#231f20" stroke="#231f20" stroke-width="0.1" >1.6</text>
<line x1="284.3" y1="392.35" x2="334.6" y2="392.35" stroke="#000" stroke-width="1.2"/>
<line x1="285.0" y1="392" x2="285.0" y2="394.8" stroke="#111111" stroke-width="1"/>
<line x1="308.6" y1="392" x2="308.6" y2="394.8" stroke="#111111" stroke-width="1"/>
<line x1="332.2" y1="392" x2="332.2" y2="394.8" stroke="#111111" stroke-width="1"/>
<rect x="292.3" y="344.147" width="8.5" height="47.852999999999994" fill="#bc022e"/>
<line x1="296.55" y1="335.558" x2="296.55" y2="344.147" stroke="#111111" stroke-width="0.9"/>
<line x1="295.05" y1="335.558" x2="298.05" y2="335.558" stroke="#111111" stroke-width="1.1"/>
<rect x="316.0" y="374.004" width="9.0" height="17.996" fill="#2a518a"/>
<line x1="320.5" y1="370.323" x2="320.5" y2="374.004" stroke="#111111" stroke-width="0.9"/>
<line x1="319.0" y1="370.323" x2="322.0" y2="370.323" stroke="#111111" stroke-width="1.1"/>
<circle cx="317.90" cy="366.3" r="0.9" fill="#231f20"/>
<circle cx="320.50" cy="366.3" r="0.9" fill="#231f20"/>
<circle cx="323.10" cy="366.3" r="0.9" fill="#231f20"/>
<text x="300.0" y="316.6" font-size="8.4" text-anchor="start" font-weight="normal" fill="#231f20" textLength="20.5" lengthAdjust="spacingAndGlyphs" stroke="#231f20" stroke-width="0.18" >PEMs</text>
<text transform="translate(299.15000000000003,400.7) rotate(-45)" x="0" y="0" font-size="6.6" text-anchor="end" fill="#231f20" textLength="9.5" lengthAdjust="spacingAndGlyphs" stroke="#231f20" stroke-width="0.18" >WT</text>
<text transform="translate(323.1,400.7) rotate(-45)" x="0" y="0" font-size="6.6" text-anchor="end" fill="#231f20" textLength="39" lengthAdjust="spacingAndGlyphs" stroke="#231f20" stroke-width="0.18" >ER-mTOR KO</text>
<rect x="0" y="0" width="520" height="1" fill="#000"/>
<rect x="0" y="434.5" width="520" height="1.5" fill="#000"/>
<rect x="0" y="0" width="1" height="436" fill="#000"/>
<rect x="518.5" y="0" width="1.5" height="436" fill="#000"/>
</svg>
</body></html>
